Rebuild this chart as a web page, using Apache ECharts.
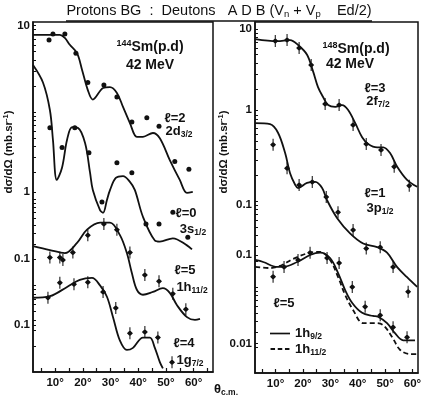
<!DOCTYPE html>
<html><head><meta charset="utf-8">
<script src="https://cdn.jsdelivr.net/npm/echarts@6.0.0/dist/echarts.min.js"></script>
<style>html,body{margin:0;padding:0;background:#fff}#c{width:425px;height:397px}</style>
</head><body><div id="c"></div>
<script>
// Angles in degrees (c.m.); cross sections in mb/sr as drawn (curves offset for display)
const xLabelVals = [10, 20, 30, 40, 50, 60];
const xTickValsL = [5, 10, 15, 20, 25, 30, 35, 40, 45, 50, 55, 60, 65];
const xTickValsR = [5, 10, 15, 20, 25, 30, 35, 40, 45, 50, 55, 60];

const leftYLabelVals = [10, 0.12, 0.02, 0.0035];
const leftYLabelText = ['10', '1', '0.1', '0.1'];
const rightYLabelVals = [10, 1.14, 0.09, 0.0235, 0.0022];
const rightYLabelText = ['10', '1', '0.1', '0.1', '0.01'];

// ---- Left panel: 144Sm(p,d) ----
const l2CurveX = [2.0, 11.7, 13.5, 15.3, 17.9, 19.7, 21.8, 23.6, 27.3, 29.8, 32.3, 34.5, 37.0, 39.5, 41.7, 45.3, 47.8, 51.4, 55.0, 57.6, 59.7];
const l2CurveY = [7.8, 7.8, 7.2, 6.0, 4.8, 3.1, 1.8, 1.4, 1.9, 1.95, 1.67, 1.15, 0.75, 0.52, 0.52, 0.575, 0.50, 0.28, 0.165, 0.117, 0.12];
const l2PtsX = [7.8, 9.2, 13.5, 17.5, 21.8, 27.6, 32.3, 37.7, 43.1, 47.5, 53.2, 58.3];
const l2PtsY = [6.8, 8.0, 8.0, 4.8, 2.2, 2.06, 1.5, 0.77, 0.86, 0.69, 0.27, 0.22];

const l0CurveX = [2.0, 5.6, 8.1, 9.2, 10.6, 12.5, 14.3, 16.1, 18.2, 20.8, 22.6, 23.6, 26.2, 27.3, 28.7, 29.8, 31.9, 34.5, 37.0, 38.8, 41.7, 46.0, 47.8, 52.5, 57.6, 59.4];
const l0CurveY = [3.5, 2.2, 1.06, 0.48, 0.165, 0.23, 0.48, 0.67, 0.66, 0.44, 0.20, 0.126, 0.074, 0.069, 0.097, 0.126, 0.174, 0.183, 0.157, 0.126, 0.062, 0.033, 0.032, 0.035, 0.029, 0.026];
const l0PtsX = [8.1, 12.5, 17.1, 22.2, 26.9, 32.3, 37.7, 42.8, 47.5, 52.5, 57.9];
const l0PtsY = [0.66, 0.39, 0.66, 0.34, 0.092, 0.26, 0.20, 0.051, 0.051, 0.070, 0.036];

const l5LCurveX = [2.0, 8.1, 13.5, 17.9, 21.5, 26.2, 29.8, 33.4, 35.9, 37.7, 39.5, 41.7, 45.3, 48.9, 51.4, 54.0, 57.6, 60.5, 62.3];
const l5LCurveY = [0.0285, 0.0256, 0.0236, 0.031, 0.044, 0.053, 0.053, 0.038, 0.0236, 0.0139, 0.0089, 0.0078, 0.0084, 0.0093, 0.0082, 0.0059, 0.0043, 0.0040, 0.0041];
const l5LPtsX = [8.1, 11.7, 12.8, 16.4, 21.8, 27.6, 32.3, 37.0, 42.4, 47.5, 52.5, 57.2];
const l5LPtsY = [0.021, 0.021, 0.0196, 0.024, 0.038, 0.051, 0.044, 0.024, 0.0132, 0.0112, 0.0080, 0.0053];

const l4CurveX = [2.0, 8.1, 14.3, 18.9, 23.3, 26.2, 28.7, 30.9, 33.4, 35.9, 38.1, 41.7, 44.2, 46.0, 47.8, 48.9];
const l4CurveY = [0.0072, 0.0075, 0.0096, 0.0116, 0.0122, 0.010, 0.0074, 0.0043, 0.0023, 0.0018, 0.0019, 0.0025, 0.0025, 0.0019, 0.0013, 0.0011];
const l4PtsX = [7.4, 11.7, 16.8, 21.8, 27.3, 31.9, 37.0, 42.4, 47.1, 52.2];
const l4PtsY = [0.0072, 0.0107, 0.0103, 0.0109, 0.0084, 0.0055, 0.0028, 0.0029, 0.0025, 0.0013];

// ---- Right panel: 148Sm(p,d) ----
const l3CurveX = [2.6, 10.6, 15.3, 18.2, 21.5, 23.7, 25.5, 27.4, 29.2, 31.8, 34.3, 36.5, 39.1, 41.6, 43.8, 47.1, 49.3, 51.8, 54.4, 58.0, 61.7];
const l3CurveY = [7.6, 7.2, 7.4, 6.5, 5.0, 3.2, 2.1, 1.6, 1.3, 1.24, 1.3, 1.14, 0.80, 0.55, 0.46, 0.42, 0.42, 0.36, 0.25, 0.176, 0.146];
const l3PtsX = [9.9, 14.2, 18.6, 23.0, 28.1, 33.2, 38.3, 43.1, 48.5, 53.3, 58.8];
const l3PtsY = [7.2, 7.4, 6.0, 3.8, 1.34, 1.3, 0.76, 0.46, 0.39, 0.25, 0.15];

const l1CurveX = [2.6, 8.0, 10.9, 13.5, 15.3, 17.2, 18.2, 21.5, 24.5, 27.0, 28.8, 32.5, 37.2, 42.0, 47.1, 50.7, 54.4, 58.0, 61.7];
const l1CurveY = [0.80, 0.78, 0.62, 0.36, 0.21, 0.153, 0.141, 0.162, 0.166, 0.141, 0.102, 0.063, 0.042, 0.032, 0.029, 0.025, 0.017, 0.013, 0.010];
const l1PtsX = [9.1, 14.2, 18.6, 23.4, 28.5, 32.8, 38.3, 43.1, 48.2, 52.9, 58.4];
const l1PtsY = [0.45, 0.24, 0.153, 0.166, 0.111, 0.074, 0.046, 0.028, 0.029, 0.017, 0.0088];

const h9CurveX = [2.6, 5.5, 10.6, 12.8, 17.9, 22.6, 26.3, 29.9, 32.8, 35.4, 38.0, 41.6, 45.6, 47.4, 50.7, 53.6, 56.6, 60.9];
const h9CurveY = [0.0206, 0.0195, 0.0171, 0.0171, 0.0195, 0.0235, 0.025, 0.0217, 0.0146, 0.0092, 0.0065, 0.0050, 0.0046, 0.0045, 0.0038, 0.0029, 0.0024, 0.0024];
const h11CurveX = [2.6, 8.0, 12.4, 16.4, 22.6, 26.3, 29.9, 32.8, 35.4, 38.3, 42.0, 46.4, 49.3, 52.6, 55.5, 59.1, 61.7];
const h11CurveY = [0.0171, 0.0166, 0.018, 0.0212, 0.025, 0.0255, 0.0206, 0.0131, 0.0081, 0.0054, 0.0038, 0.0038, 0.0036, 0.0026, 0.00185, 0.00166, 0.00166];
const l5RPtsX = [9.1, 13.1, 18.2, 22.6, 28.8, 33.2, 38.0, 42.7, 48.2, 52.9, 58.0];
const l5RPtsY = [0.0131, 0.0171, 0.0206, 0.025, 0.0217, 0.019, 0.010, 0.0059, 0.0047, 0.0034, 0.0026];

const INK = '#111';
const FONT = '"Liberation Sans", Arial, sans-serif';
const ERRBAR = 'path://M4.1,0h1.3v18h-1.3z M4.75,4.5 L8.5,9 L4.75,13.5 L1,9 Z';

function pairs(xs, ys) { return xs.map((x, i) => [x, ys[i]]); }
function curve(name, xs, ys, g, dashed) {
  return { type: 'line', name, xAxisIndex: g, yAxisIndex: g, data: pairs(xs, ys), smooth: 0.35,
    symbol: 'none', showSymbol: false, silent: true,
    lineStyle: { color: INK, width: 1.8, type: dashed ? [5, 3] : 'solid' }, itemStyle: { color: INK } };
}
function points(name, xs, ys, g, bar) {
  return { type: 'scatter', name, xAxisIndex: g, yAxisIndex: g, data: pairs(xs, ys), silent: true,
    symbol: bar ? ERRBAR : 'circle', symbolSize: bar ? [6, 12] : 5, itemStyle: { color: INK, opacity: 1 } };
}
function minorTicks(min, max) {
  const out = [];
  for (let e = -4; e <= 2; e++) for (let m = 1; m <= 9; m++) {
    const v = m * Math.pow(10, e);
    if (v > min && v < max) out.push(+v.toPrecision(3));
  }
  return out;
}
function labelFmt(vals, texts) {
  return function (v) {
    for (let i = 0; i < vals.length; i++) if (Math.abs(Math.log10(v) - Math.log10(vals[i])) < 0.005) return texts[i];
    return '';
  };
}
function xAx(g, min, max, ticks) {
  return { gridIndex: g, type: 'value', min, max,
    axisLine: { onZero: false, lineStyle: { color: INK, width: 1.5 } },
    axisTick: { inside: true, length: 4, customValues: ticks, lineStyle: { color: INK, width: 1.2 } },
    axisLabel: { customValues: xLabelVals, formatter: v => v + '°', color: INK, fontSize: 11.5, fontWeight: 'bold', fontFamily: FONT, margin: 5 },
    splitLine: { show: false } };
}
function yAx(g, max, vals, texts) {
  return { gridIndex: g, type: 'log', logBase: 10, min: 0.001, max,
    axisLine: { onZero: false, lineStyle: { color: INK, width: 1.5 } },
    axisTick: { inside: true, length: 3, customValues: minorTicks(0.001, max).concat(vals), lineStyle: { color: INK, width: 1 } },
    axisLabel: { customValues: vals, formatter: labelFmt(vals, texts), color: INK, fontSize: 11.5, fontWeight: 'bold', fontFamily: FONT, margin: 3 },
    splitLine: { show: false }, minorTick: { show: false } };
}

const rich = {
  n: { fontSize: 13, fontFamily: FONT, fontWeight: 'bold', color: INK, lineHeight: 16 },
  b: { fontSize: 14, fontFamily: FONT, fontWeight: 'bold', color: INK, lineHeight: 16 },
  s: { fontSize: 8.5, fontFamily: FONT, fontWeight: 'bold', color: INK, verticalAlign: 'bottom' },
  u: { fontSize: 9, fontFamily: FONT, fontWeight: 'bold', color: INK, verticalAlign: 'top' },
  t: { fontSize: 14.5, fontFamily: FONT, color: INK, lineHeight: 17 },
  ts: { fontSize: 9.5, fontFamily: FONT, color: INK, verticalAlign: 'bottom' },
  y: { fontSize: 11.5, fontFamily: FONT, fontWeight: 'bold', color: INK, lineHeight: 14 },
  ys: { fontSize: 7.5, fontFamily: FONT, fontWeight: 'bold', color: INK, verticalAlign: 'top' }
};
function txt(x, y, text, rot) {
  return { type: 'text', x, y, rotation: rot || 0, silent: true,
    style: { text, rich, fill: INK, align: 'center', verticalAlign: 'middle', textAlign: 'center', textVerticalAlign: 'middle',
      fontSize: 13, fontFamily: FONT } };
}

const chart = echarts.init(document.getElementById('c'), null, { renderer: 'canvas' });
chart.setOption({
  animation: false,
  backgroundColor: '#fff',
  grid: [
    { left: 33, top: 22, width: 180, height: 350, show: true, borderColor: INK, borderWidth: 1.5 },
    { left: 255, top: 22, width: 163, height: 351, show: true, borderColor: INK, borderWidth: 1.5 }
  ],
  xAxis: [xAx(0, 2, 67, xTickValsL), xAx(1, 2.5, 62, xTickValsR)],
  yAxis: [yAx(0, 11, leftYLabelVals, leftYLabelText), yAx(1, 12, rightYLabelVals, rightYLabelText)],
  legend: {
    data: [
      { name: '1h9/2', icon: 'path://M0,0h24v2h-24z' },
      { name: '1h11/2', icon: 'path://M0,0h5v2h-5z M8,0h5v2h-5z M16,0h5v2h-5z' }
    ],
    orient: 'vertical', left: 265, top: 322, itemWidth: 20, itemHeight: 1.8, itemGap: 1,
    selectedMode: false,
    itemStyle: { color: INK, borderWidth: 0 },
    formatter: n => n === '1h9/2' ? '{n|1h}{s|9/2}' : '{n|1h}{s|11/2}',
    textStyle: { color: INK, fontSize: 12, rich }
  },
  series: [
    curve('l2c', l2CurveX, l2CurveY, 0), points('l2p', l2PtsX, l2PtsY, 0, false),
    curve('l0c', l0CurveX, l0CurveY, 0), points('l0p', l0PtsX, l0PtsY, 0, false),
    curve('l5c', l5LCurveX, l5LCurveY, 0), points('l5p', l5LPtsX, l5LPtsY, 0, true),
    curve('l4c', l4CurveX, l4CurveY, 0), points('l4p', l4PtsX, l4PtsY, 0, true),
    curve('l3c', l3CurveX, l3CurveY, 1), points('l3p', l3PtsX, l3PtsY, 1, true),
    curve('l1c', l1CurveX, l1CurveY, 1), points('l1p', l1PtsX, l1PtsY, 1, true),
    curve('1h9/2', h9CurveX, h9CurveY, 1), curve('1h11/2', h11CurveX, h11CurveY, 1, true),
    points('l5rp', l5RPtsX, l5RPtsY, 1, true)
  ],
  graphic: [
    { type: 'line', silent: true, shape: { x1: 66, y1: 21, x2: 372, y2: 21 }, style: { stroke: INK, lineWidth: 1.3 } },
    txt(219, 11, '{t|Protons BG  :  Deutons   A D B (V}{ts|n}{t| + V}{ts|p}{t|    Ed/2)}'),
    txt(150, 47, '{u|144}{b|Sm(p.d)}'), txt(150, 65, '{b|42 MeV}'),
    txt(175, 118, '{n|ℓ=2}'), txt(179, 131, '{n|2d}{s|3/2}'),
    txt(186, 213, '{n|ℓ=0}'), txt(193, 229, '{n|3s}{s|1/2}'),
    txt(185, 270, '{n|ℓ=5}'), txt(192, 287, '{n|1h}{s|11/2}'),
    txt(184, 343, '{n|ℓ=4}'), txt(190, 360, '{n|1g}{s|7/2}'),
    txt(356, 49, '{u|148}{b|Sm(p.d)}'), txt(350, 64, '{b|42 MeV}'),
    txt(375, 88, '{n|ℓ=3}'), txt(378, 101, '{n|2f}{s|7/2}'),
    txt(375, 193, '{n|ℓ=1}'), txt(380, 208, '{n|3p}{s|1/2}'),
    txt(284, 303, '{n|ℓ=5}'),
    txt(226, 389, '{n|θ}{s|c.m.}'),
    txt(9, 152, '{y|dσ/dΩ (mb.sr}{ys|-1}{y|)}', Math.PI / 2),
    txt(224, 152, '{y|dσ/dΩ (mb.sr}{ys|-1}{y|)}', Math.PI / 2)
  ]
});
</script></body></html>
